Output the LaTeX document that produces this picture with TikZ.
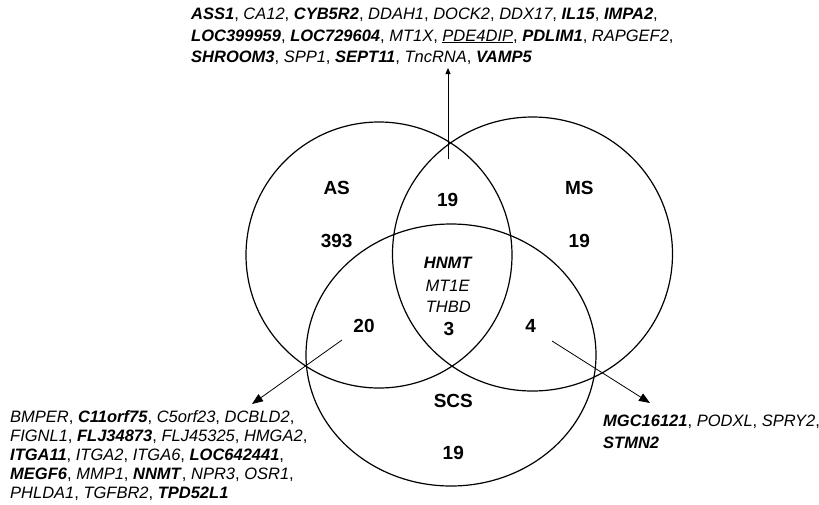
\documentclass[tikz,border=0pt]{standalone}
\usepackage{fontspec}
\setmainfont{Liberation Sans}
\usetikzlibrary{arrows.meta}
\tikzstyle{set} = [line width=1.2pt]
\tikzstyle{setname} = [font=\fontsize{19}{19}\selectfont\bfseries, inner sep=0pt]
\tikzstyle{count} = [font=\fontsize{19}{19}\selectfont\bfseries, inner sep=0pt]
\tikzstyle{core} = [font=\fontsize{16.5}{16.5}\selectfont, inner sep=0pt]
\tikzstyle{genes} = [font=\fontsize{16.5}{21.5}\selectfont, align=left, inner sep=0pt, anchor=north west]
\tikzstyle{pointer} = [line width=0.8pt, -{Triangle[length=11pt,width=8.5pt]}]
\tikzstyle{pointer small} = [line width=0.8pt, -{Triangle[length=6pt,width=5pt]}]
\newcommand{\genei}[1]{\textit{#1}}
\newcommand{\geneb}[1]{\textbf{\textit{#1}}}

\begin{document}
\begin{tikzpicture}[x=1pt,y=-1pt]
	\useasboundingbox (0,0) rectangle (819,504);
	% the three sets
	\coordinate (as) at (379,255);
	\coordinate (ms) at (532.5,254);
	\coordinate (scs) at (451,355);
	\draw[set] (as) circle [radius=133pt];
	\draw[set] (ms) circle [x radius=140pt, y radius=137pt];
	\draw[set] (scs) circle [x radius=145pt, y radius=131pt];
	% names and counts
	\node[setname] (asname) at (336.7,188) {AS};
	\node[setname] (msname) at (579.3,188) {MS};
	\node[setname] (scsname) at (453.3,400.7) {SCS};
	\node[count] (asonly) at (336.7,241) {393};
	\node[count] (msonly) at (579.3,241) {19};
	\node[count] (scsonly) at (453.3,453.3) {19};
	\node[count] (asms) at (447.7,200) {19};
	\node[count] (asscs) at (364,326) {20};
	\node[count] (msscs) at (530.7,326) {4};
	\node[count] (all) at (449,329.3) {3};
	\node[core] (hnmt) at (448.3,263.3) {\geneb{HNMT}};
	\node[core] (mtie) at (447.7,285.7) {\genei{MT1E}};
	\node[core] (thbd) at (448.3,306.7) {\genei{THBD}};
	% gene lists
	\node[genes] (asmslist) at (191,8) {%
		\geneb{ASS1}, \genei{CA12}, \geneb{CYB5R2}, \genei{DDAH1}, \genei{DOCK2}, \genei{DDX17}, \geneb{IL15}, \geneb{IMPA2},\\
		\geneb{LOC399959}, \geneb{LOC729604}, \genei{MT1X}, \underline{\genei{PDE4DIP}}, \geneb{PDLIM1}, \genei{RAPGEF2},\\
		\geneb{SHROOM3}, \genei{SPP1}, \geneb{SEPT11}, \genei{TncRNA}, \geneb{VAMP5}};
	\node[genes, font=\fontsize{16.5}{19}\selectfont] (asscslist) at (10,410) {%
		\genei{BMPER}, \geneb{C11orf75}, \genei{C5orf23}, \genei{DCBLD2},\\
		\genei{FIGNL1}, \geneb{FLJ34873}, \genei{FLJ45325}, \genei{HMGA2},\\
		\geneb{ITGA11}, \genei{ITGA2}, \genei{ITGA6}, \geneb{LOC642441},\\
		\geneb{MEGF6}, \genei{MMP1}, \geneb{NNMT}, \genei{NPR3}, \genei{OSR1},\\
		\genei{PHLDA1}, \genei{TGFBR2}, \geneb{TPD52L1}};
	\node[genes] (msscslist) at (603,415) {%
		\geneb{MGC16121}, \genei{PODXL}, \genei{SPRY2},\\
		\geneb{STMN2}};
	% pointers
	\coordinate (asmsfrom) at (448,159);
	\coordinate (asmsto) at (448,68);
	\coordinate (asscsfrom) at (342,340);
	\coordinate (asscsto) at (252,404);
	\coordinate (msscsfrom) at (552,341);
	\coordinate (msscsto) at (650,403);
	\draw[pointer small] (asmsfrom) -- (asmsto);
	\draw[pointer] (asscsfrom) -- (asscsto);
	\draw[pointer] (msscsfrom) -- (msscsto);
\end{tikzpicture}
\end{document}
